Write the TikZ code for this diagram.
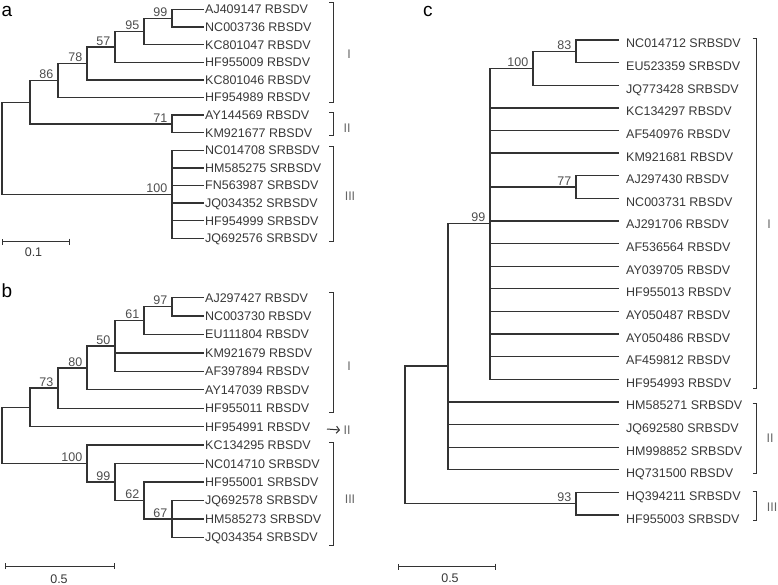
\documentclass[tikz,border=0pt]{standalone}
\usepackage{fontspec}
\setmainfont{Liberation Sans}
\usetikzlibrary{arrows.meta}
\definecolor{Line}{HTML}{333333}
\definecolor{Ink}{HTML}{383838}
\definecolor{Boot}{HTML}{4E4E4E}
\definecolor{Soft}{HTML}{666666}
\newcommand\leaffont{\fontsize{12.5}{14}\selectfont}
\newcommand\panelfont{\fontsize{19}{22}\selectfont}
\tikzset{
    branch/.style={draw=Line, line width=1.3pt},
    leaf/.style={anchor=west, inner xsep=1pt, inner ysep=0pt, text=Ink, font=\leaffont, text height=9pt, text depth=0pt},
    leafc/.style={leaf, inner xsep=7pt, text height=16pt},
    boot/.style={anchor=south east, inner sep=1.5pt, xshift=-3pt, text=Boot, font=\leaffont},
    clade/.style={text=Soft, font=\leaffont},
    bracket/.style={draw=Line, line width=1pt},
    panel/.style={anchor=base west, inner sep=0pt, font=\panelfont, text=black},
    scalebar/.style={draw=Line, line width=1pt, {Bar[width=6pt]}-{Bar[width=6pt]}},
    scalelabel/.style={text=Ink, font=\leaffont},
}

\begin{document}
\begin{tikzpicture}[x=1pt, y=-1pt]
    \useasboundingbox (0,0) rectangle (778,585);

    % Panel a
    \node[panel] (pa) at (1.5,16.5) {a};
    \foreach \acc [count=\i from 0] in {AJ409147 RBSDV, NC003736 RBSDV, KC801047 RBSDV, HF955009 RBSDV, KC801046 RBSDV, HF954989 RBSDV, AY144569 RBSDV, KM921677 RBSDV, NC014708 SRBSDV, HM585275 SRBSDV, FN563987 SRBSDV, JQ034352 SRBSDV, HF954999 SRBSDV, JQ692576 SRBSDV}
        \node[leaf] (a\i) at (204, {9.5+17.6*\i}) {\acc};
    \coordinate (a99) at (172,18.3);
    \coordinate (a95) at (144,31.5);
    \coordinate (a57) at (115,46.9);
    \coordinate (a78) at (87,63.4);
    \coordinate (a86) at (58,80.5);
    \coordinate (a71) at (172,123.9);
    \coordinate (aX) at (30,102.2);
    \coordinate (a100) at (172,194.3);
    \coordinate (aroot) at (2,148.2);
    \draw[branch] (a99) |- (a0.west) (a99) |- (a1.west);
    \draw[branch] (a95) |- (a99) (a95) |- (a2.west);
    \draw[branch] (a57) |- (a95) (a57) |- (a3.west);
    \draw[branch] (a78) |- (a57) (a78) |- (a4.west);
    \draw[branch] (a86) |- (a78) (a86) |- (a5.west);
    \draw[branch] (a71) |- (a6.west) (a71) |- (a7.west);
    \draw[branch] (aX) |- (a86) (aX) |- (a71);
    \foreach \k in {8,...,13}
        \draw[branch] (a100) |- (a\k.west);
    \draw[branch] (aroot) |- (aX) (aroot) |- (a100);
    \node[boot] (a99l) at (a99) {99};
    \node[boot] (a95l) at (a95) {95};
    \node[boot] (a57l) at (a57) {57};
    \node[boot] (a78l) at (a78) {78};
    \node[boot] (a86l) at (a86) {86};
    \node[boot] (a71l) at (a71) {71};
    \node[boot] (a100l) at (a100) {100};
    % clades a
    \draw[bracket] (329,2.7) -| (333,102.7) -- (329,102.7);
    \draw[bracket] (329,112.7) -| (333,136) -- (329,136);
    \draw[bracket] (329,146.7) -| (333,241.7) -- (329,241.7);
    \node[clade] (aI) at (349,54) {I};
    \node[clade] (aII) at (347,128) {II};
    \node[clade] (aIII) at (350,196) {III};
    \coordinate (asb0) at (2,241.7);
    \coordinate (asb1) at (70,241.7);
    \draw[scalebar] (asb0) -- (asb1);
    \node[scalelabel] (asbl) at (33.5,252) {0.1};

    % Panel b
    \node[panel] (pb) at (1.5,297) {b};
    \foreach \acc [count=\i from 0] in {AJ297427 RBSDV, NC003730 RBSDV, EU111804 RBSDV, KM921679 RBSDV, AF397894 RBSDV, AY147039 RBSDV, HF955011 RBSDV, HF954991 RBSDV, KC134295 RBSDV, NC014710 SRBSDV, HF955001 SRBSDV, JQ692578 SRBSDV, HM585273 SRBSDV, JQ034354 SRBSDV}
        \node[leaf] (b\i) at (204, {297.5+18.45*\i}) {\acc};
    \coordinate (b97) at (172,306.7);
    \coordinate (b61) at (144,320.6);
    \coordinate (b50) at (115,346);
    \coordinate (b80) at (87,367.9);
    \coordinate (b73) at (58,388);
    \coordinate (bX) at (30,407.3);
    \coordinate (b67) at (172,518.9);
    \coordinate (b62) at (144,500.5);
    \coordinate (b99) at (115,482);
    \coordinate (b100) at (87,463.6);
    \coordinate (broot) at (2,435.5);
    \draw[branch] (b97) |- (b0.west) (b97) |- (b1.west);
    \draw[branch] (b61) |- (b97) (b61) |- (b2.west);
    \draw[branch] (b50) |- (b61) (b50) |- (b3.west) (b50) |- (b4.west);
    \draw[branch] (b80) |- (b50) (b80) |- (b5.west);
    \draw[branch] (b73) |- (b80) (b73) |- (b6.west);
    \draw[branch] (bX) |- (b73) (bX) |- (b7.west);
    \draw[branch] (b67) |- (b11.west) (b67) |- (b12.west) (b67) |- (b13.west);
    \draw[branch] (b62) |- (b10.west) (b62) |- (b67);
    \draw[branch] (b99) |- (b9.west) (b99) |- (b62);
    \draw[branch] (b100) |- (b8.west) (b100) |- (b99);
    \draw[branch] (broot) |- (bX) (broot) |- (b100);
    \node[boot] (b97l) at (b97) {97};
    \node[boot] (b61l) at (b61) {61};
    \node[boot] (b50l) at (b50) {50};
    \node[boot] (b80l) at (b80) {80};
    \node[boot] (b73l) at (b73) {73};
    \node[boot] (b67l) at (b67) {67};
    \node[boot] (b62l) at (b62) {62};
    \node[boot] (b99l) at (b99) {99};
    \node[boot] (b100l) at (b100) {100};
    % clades b
    \draw[bracket] (329,292.7) -| (333,412.7) -- (329,412.7);
    \draw[bracket] (329,442.7) -| (333,545) -- (329,545);
    \node[clade] (bI) at (349,366) {I};
    \node[clade] (bII) at (347,430) {II};
    \node[clade] (bIII) at (350,499) {III};
    \coordinate (barr) at (327,429);
    \draw[draw=Line, line width=1pt, -{Straight Barb[length=3pt, width=7pt]}] (barr) -- (bII.west);
    \coordinate (bsb0) at (5,566);
    \coordinate (bsb1) at (115,566);
    \draw[scalebar] (bsb0) -- (bsb1);
    \node[scalelabel] (bsbl) at (59,579.5) {0.5};

    % Panel c
    \node[panel] (pc) at (423,17) {c};
    \foreach \acc [count=\i from 0] in {NC014712 SRBSDV, EU523359 SRBSDV, JQ773428 SRBSDV, KC134297 RBSDV, AF540976 RBSDV, KM921681 RBSDV, AJ297430 RBSDV, NC003731 RBSDV, AJ291706 RBSDV, AF536564 RBSDV, AY039705 RBSDV, HF955013 RBSDV, AY050487 RBSDV, AY050486 RBSDV, AF459812 RBSDV, HF954993 RBSDV, HM585271 SRBSDV, JQ692580 SRBSDV, HM998852 SRBSDV, HQ731500 RBSDV, HQ394211 SRBSDV, HF955003 SRBSDV}
        \node[leafc] (c\i) at (619, {40+22.62*\i}) {\acc};
    \coordinate (c83) at (576,51.3);
    \coordinate (c100) at (533,68.3);
    \coordinate (c77) at (576,187);
    \coordinate (c99) at (490,223.8);
    \coordinate (cA) at (448,366);
    \coordinate (c93) at (576,503.7);
    \coordinate (croot) at (405,434.9);
    \draw[branch] (c83) |- (c0.west) (c83) |- (c1.west);
    \draw[branch] (c100) |- (c83) (c100) |- (c2.west);
    \draw[branch] (c77) |- (c6.west) (c77) |- (c7.west);
    \draw[branch] (c99) |- (c100) (c99) |- (c77);
    \foreach \k in {3,4,5,8,9,10,11,12,13,14,15}
        \draw[branch] (c99) |- (c\k.west);
    \draw[branch] (cA) |- (c99);
    \foreach \k in {16,...,19}
        \draw[branch] (cA) |- (c\k.west);
    \draw[branch] (c93) |- (c20.west) (c93) |- (c21.west);
    \draw[branch] (croot) |- (cA) (croot) |- (c93);
    \node[boot] (c83l) at (c83) {83};
    \node[boot] (c100l) at (c100) {100};
    \node[boot] (c77l) at (c77) {77};
    \node[boot] (c99l) at (c99) {99};
    \node[boot] (c93l) at (c93) {93};
    % clades c
    \draw[bracket] (752.7,38.3) -| (756.7,388.3) -- (752.7,388.3);
    \draw[bracket] (752.7,403.3) -| (756.7,473.3) -- (752.7,473.3);
    \draw[bracket] (752.7,491.7) -| (756.7,520) -- (752.7,520);
    \node[clade] (cI) at (769,224) {I};
    \node[clade] (cII) at (770,438.3) {II};
    \node[clade] (cIII) at (772,507.3) {III};
    \coordinate (csb0) at (398.3,566.7);
    \coordinate (csb1) at (495.7,566.7);
    \draw[scalebar] (csb0) -- (csb1);
    \node[scalelabel] (csbl) at (450,578) {0.5};
\end{tikzpicture}
\end{document}
